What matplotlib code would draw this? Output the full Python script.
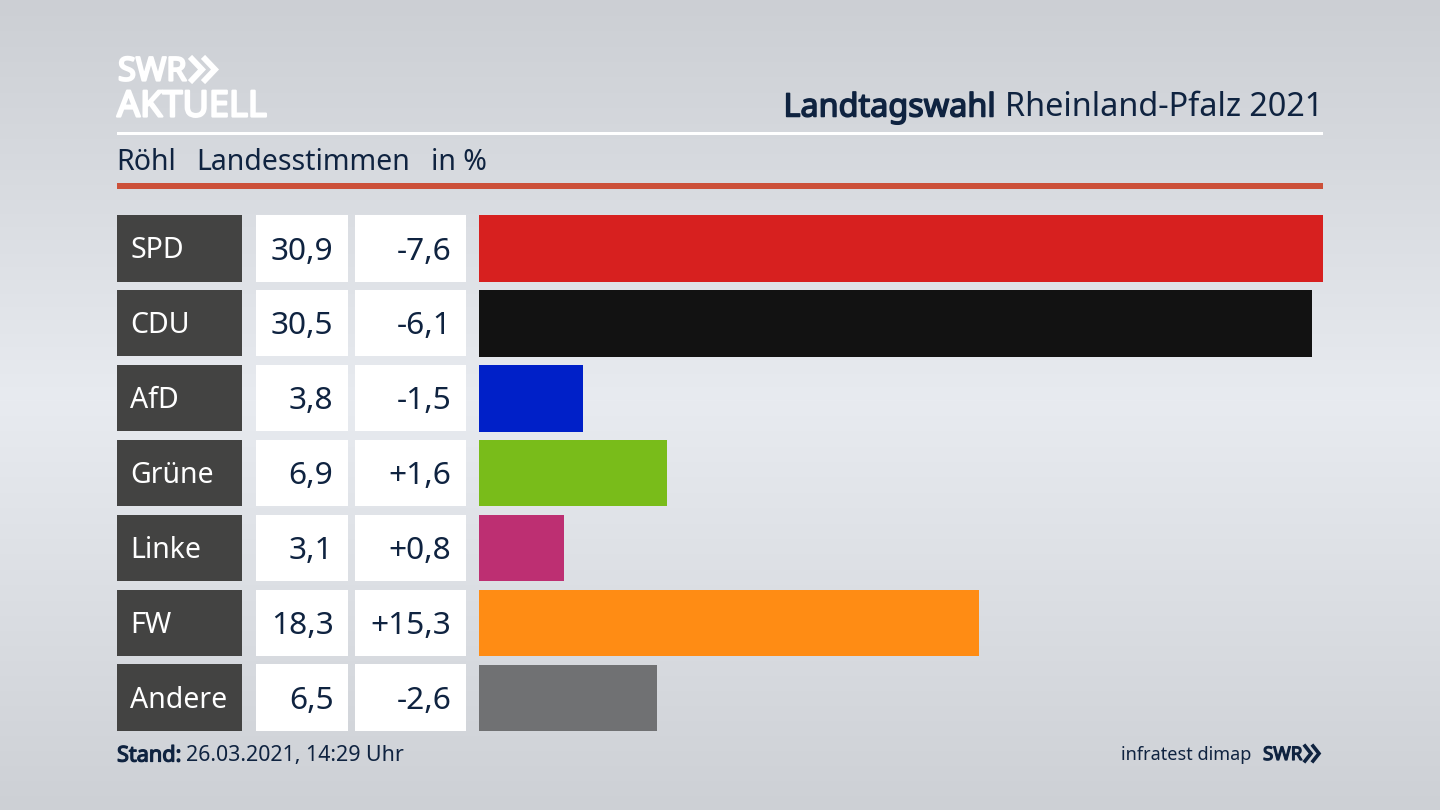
import numpy as np
import matplotlib
matplotlib.use("Agg")
import matplotlib.pyplot as plt
import matplotlib.patheffects as pe
from matplotlib.patches import Rectangle

plt.rcParams["font.family"] = ["Noto Sans", "DejaVu Sans"]

parties = ["SPD", "CDU", "AfD", "Grüne", "Linke", "FW", "Andere"]
shares = [30.9, 30.5, 3.8, 6.9, 3.1, 18.3, 6.5]
share_labels = ["30,9", "30,5", "3,8", "6,9", "3,1", "18,3", "6,5"]
change_labels = ["-7,6", "-6,1", "-1,5", "+1,6", "+0,8", "+15,3", "-2,6"]
colors = ["#d7201f", "#121212", "#0020c8", "#79bc1a", "#bd2f72", "#ff8c14", "#707173"]

navy = "#0f2340"
W, H = 1440, 810


def heavy(color, width):
    # the installed Noto Sans has no bold cut, so thicken the outline
    return [pe.withStroke(linewidth=width, foreground=color)]


fig = plt.figure(figsize=(14.4, 8.1), dpi=100)

# page layer in pixel coordinates
bg = fig.add_axes([0, 0, 1, 1])
bg.set_xlim(0, W)
bg.set_ylim(H, 0)
bg.axis("off")

# soft light band in the middle of the backdrop
stops_y = [0, 200, 400, 600, 810]
stops_c = [206, 219, 234, 221, 207]
col = np.interp(np.arange(H), stops_y, stops_c)
grad = np.stack([col - 2, col + 1, col + 6], axis=1).clip(0, 255).reshape(H, 1, 3) / 255
bg.imshow(grad, extent=[0, W, H, 0], aspect="auto", zorder=0)

# header
bg.text(118, 72, "SWR", color="white", fontsize=23.5, va="center", ha="left",
        path_effects=heavy("white", 1.6))
for x0 in (192, 205):
    bg.plot([x0, x0 + 10, x0], [59, 69.5, 80], color="white", lw=4.2, solid_joinstyle="miter", zorder=3)
bg.text(117, 107.5, "AKTUELL", color="white", fontsize=26, va="center", ha="left",
        path_effects=heavy("white", 1.6))

t = bg.text(1323, 108, "Rheinland-Pfalz 2021", color=navy, fontsize=23.3, va="center", ha="right")
fig.canvas.draw()
box = t.get_window_extent()
bg.text(box.x0 - 9, 108, "Landtagswahl", color=navy, fontsize=23.3, va="center", ha="right",
        path_effects=heavy(navy, 1.1))

bg.add_patch(Rectangle((117, 132), 1206, 3, color="white", lw=0))
bg.text(116.5, 162, "Röhl", color=navy, fontsize=20.5, va="center")
bg.text(196.5, 162, "Landesstimmen", color=navy, fontsize=20.5, va="center")
bg.text(431, 162, "in %", color=navy, fontsize=20.5, va="center")
bg.add_patch(Rectangle((117, 183), 1206, 6, color="#cc5039", lw=0))

# table cells left of the bars
row_tops = 215 + np.arange(len(parties)) * 74.9
for top, party, share, change in zip(row_tops, parties, share_labels, change_labels):
    mid = top + 36.5
    bg.add_patch(Rectangle((117, top), 124.5, 66.5, color="#434342", lw=0))
    bg.add_patch(Rectangle((255.5, top), 92.5, 66.5, color="white", lw=0))
    bg.add_patch(Rectangle((354.5, top), 111.5, 66.5, color="white", lw=0))
    bg.text(130.5, mid - 0.5, party, color="white", fontsize=20.5, va="center")
    bg.text(333.5, mid, share, color=navy, fontsize=22.8, va="center", ha="right")
    bg.text(451.5, mid, change, color=navy, fontsize=22.8, va="center", ha="right")

# footer
s = bg.text(117, 756, "Stand:", color=navy, fontsize=15.6, va="center",
            path_effects=heavy(navy, 0.9))
fig.canvas.draw()
box = s.get_window_extent()
bg.text(box.x1 + 5, 756, "26.03.2021, 14:29 Uhr", color=navy, fontsize=15.4, va="center")
bg.text(1251, 755, "infratest dimap", color=navy, fontsize=13, va="center", ha="right")
bg.text(1263, 755, "SWR", color=navy, fontsize=13.5, va="center", path_effects=heavy(navy, 0.9))
for x0 in (1305, 1313):
    bg.plot([x0, x0 + 6, x0], [746, 753.5, 761], color=navy, lw=2.6, solid_joinstyle="miter", zorder=3)

# bars
ax = fig.add_axes([479 / W, 1 - 731.4 / H, (1323 - 479) / W, (731.4 - 215) / H])
ax.patch.set_alpha(0)
ax.barh(range(len(parties)), shares, height=66.5 / 74.9, color=colors)
ax.set_xlim(0, 30.9)
ax.set_ylim(len(parties) - 1 + 0.444, -0.444)
ax.axis("off")

fig.savefig("out.png", dpi=100)
